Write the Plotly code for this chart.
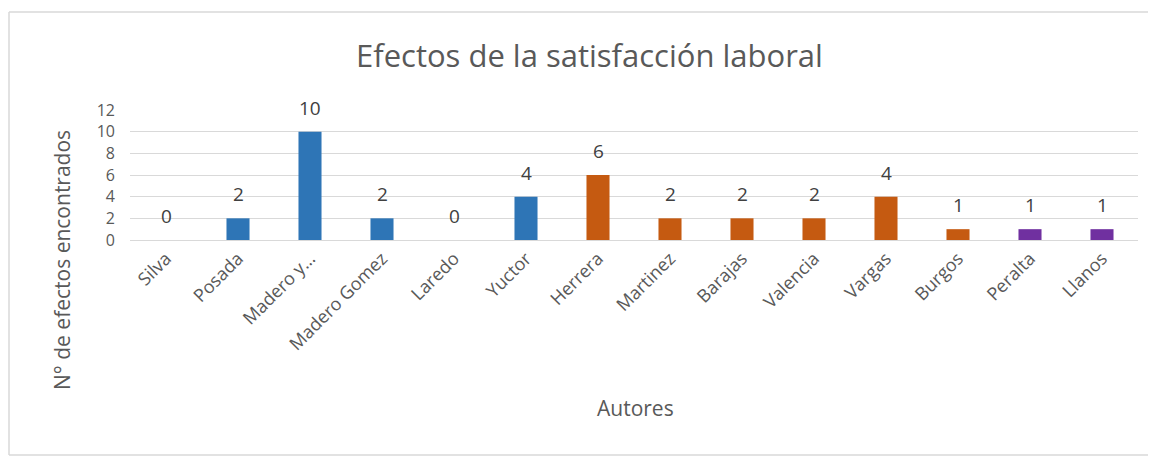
import plotly.graph_objects as go

autores = ["Silva", "Posada", "Madero y…", "Madero Gomez", "Laredo", "Yuctor",
           "Herrera", "Martinez", "Barajas", "Valencia", "Vargas", "Burgos",
           "Peralta", "Llanos"]
efectos = [0, 2, 10, 2, 0, 4, 6, 2, 2, 2, 4, 1, 1, 1]
grupos = ["a", "a", "a", "a", "a", "a", "b", "b", "b", "b", "b", "b", "c", "c"]
colores_grupo = {"a": "#2E75B6", "b": "#C55A11", "c": "#7030A0"}
y_ticks = [0, 2, 4, 6, 8, 10, 12]

# page body adds an 8px offset; figure coordinates = screen coordinates - 8
W, H = 1148, 449
L, R, T, B = 122, 18, 102, 217
FONT = "Open Sans"
GRAY = "#595959"

pw, ph = W - L - R, H - T - B


def px(x):
    return (x - L) / pw


def py(y):
    return (H - B - y) / ph


fig = go.Figure()
fig.add_trace(go.Bar(
    x=autores, y=efectos,
    marker=dict(color=[colores_grupo[g] for g in grupos], line=dict(width=0)),
    width=0.32, hoverinfo="x+y",
))

for a, v in zip(autores, efectos):
    fig.add_annotation(x=a, y=v, text=str(v), showarrow=False, yshift=24,
                       font=dict(family=FONT, size=19, color="#404040"))

fig.update_layout(
    width=W, height=H,
    margin=dict(l=L, r=R, t=T, b=B),
    paper_bgcolor="white", plot_bgcolor="white",
    showlegend=False,
    font=dict(family=FONT, color=GRAY),
)
fig.update_xaxes(tickangle=-45, tickfont=dict(family=FONT, size=18, color=GRAY),
                 showgrid=False, showline=True, linecolor="#D9D9D9", linewidth=1,
                 ticks="", ticklen=0)
fig.update_yaxes(range=[0, 12], tickvals=y_ticks, showgrid=True, gridcolor="#D9D9D9",
                 gridwidth=1, zeroline=False, showline=False,
                 tickfont=dict(family=FONT, size=16, color=GRAY), ticks="",
                 ticklabelstandoff=14)

# title
fig.add_annotation(text="Efectos de la satisfacción laboral", xref="paper", yref="paper",
                   x=px(581), y=py(47), showarrow=False, xanchor="center", yanchor="middle",
                   font=dict(family=FONT, size=31, color=GRAY))
# axis titles
fig.add_annotation(text="N° de efectos encontrados", xref="paper", yref="paper",
                   x=px(54), y=py(252), showarrow=False, textangle=-90,
                   xanchor="center", yanchor="middle",
                   font=dict(family=FONT, size=21, color=GRAY))
fig.add_annotation(text="Autores", xref="paper", yref="paper",
                   x=px(627), y=py(400), showarrow=False, xanchor="center", yanchor="middle",
                   font=dict(family=FONT, size=21, color=GRAY))

# chart border (left, top, bottom only; right edge lies outside the picture)
border = dict(color="#D9D9D9", width=1.5)
fig.add_shape(type="line", xref="paper", yref="paper", x0=px(1), x1=px(1), y0=py(447), y1=py(4),
              line=border, layer="below")
fig.add_shape(type="line", xref="paper", yref="paper", x0=px(1), x1=px(W), y0=py(4), y1=py(4),
              line=border, layer="below")
fig.add_shape(type="line", xref="paper", yref="paper", x0=px(1), x1=px(W), y0=py(447), y1=py(447),
              line=border, layer="below")

fig.write_html("out.html")
